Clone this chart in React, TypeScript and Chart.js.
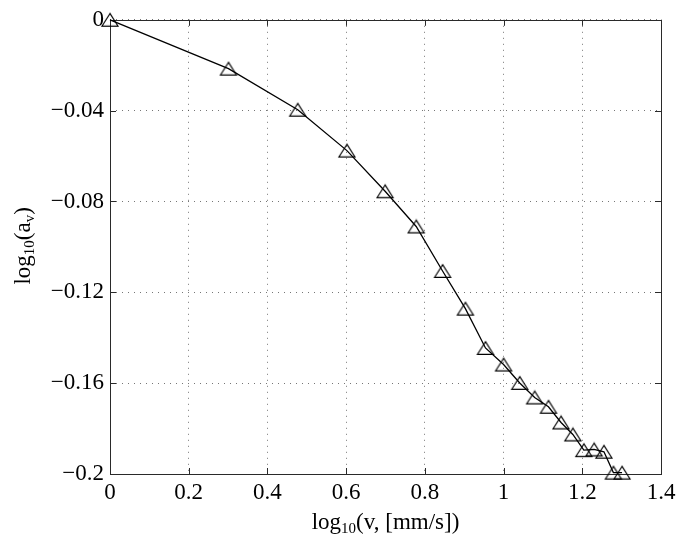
import React, { useEffect, useRef } from "react";
import { Chart, registerables } from "chart.js";

Chart.register(...registerables);

// log10(v) values
const xValues = [0, 0.301, 0.477, 0.602, 0.699, 0.778, 0.845, 0.903, 0.954, 1.0, 1.041, 1.079, 1.114, 1.146, 1.176, 1.204, 1.23, 1.255, 1.279, 1.301];
// log10(a_v) values
const yValues = [0, -0.0215, -0.0396, -0.0576, -0.0755, -0.091, -0.1106, -0.1272, -0.1445, -0.1518, -0.1599, -0.1663, -0.1704, -0.1773, -0.1826, -0.1895, -0.1892, -0.1902, -0.1994, -0.1994];

const xTicks = [0, 0.2, 0.4, 0.6, 0.8, 1, 1.2, 1.4];
const yTicks = [0, -0.04, -0.08, -0.12, -0.16, -0.2];

const xTitleParts = ["log", "10", "(v, [mm/s])"];
const yTitleParts = ["log", "10", "(a", "v", ")"];

const FONT = "'Liberation Serif', 'Times New Roman', serif";

function fmt(v: number): string {
  const s = String(Number(v.toFixed(3)));
  return s.replace("-", "\u2212");
}

function makeTriangle(): HTMLCanvasElement {
  const c = document.createElement("canvas");
  c.width = 20;
  c.height = 16;
  const g = c.getContext("2d")!;
  g.strokeStyle = "#000";
  g.lineWidth = 1.2;
  g.beginPath();
  g.moveTo(10, 1.7);
  g.lineTo(2, 14.3);
  g.lineTo(18, 14.3);
  g.closePath();
  g.stroke();
  return c;
}

// draws text parts alternating normal / subscript
function drawParts(ctx: CanvasRenderingContext2D, parts: string[], mainFont: string, subFont: string, subShift: number) {
  let total = 0;
  const widths: number[] = [];
  parts.forEach((p, i) => {
    ctx.font = i % 2 === 1 ? subFont : mainFont;
    const w = ctx.measureText(p).width;
    widths.push(w);
    total += w;
  });
  let x = -total / 2;
  parts.forEach((p, i) => {
    ctx.font = i % 2 === 1 ? subFont : mainFont;
    ctx.fillText(p, x, i % 2 === 1 ? subShift : 0);
    x += widths[i];
  });
}

const framePlugin = {
  id: "matlabFrame",
  beforeDatasetsDraw(chart: any) {
    const { ctx, chartArea } = chart;
    const { left, right, top, bottom } = chartArea;
    const xs = chart.scales.x;
    const ys = chart.scales.y;
    ctx.save();
    ctx.setLineDash([]);
    ctx.strokeStyle = "#2a2a2a";
    ctx.lineWidth = 1;
    ctx.strokeRect(Math.round(left) + 0.5, Math.round(top) + 0.5, Math.round(right - left), Math.round(bottom - top));
    const tl = 6;
    ctx.beginPath();
    xTicks.forEach((v) => {
      const px = Math.round(xs.getPixelForValue(v)) + 0.5;
      ctx.moveTo(px, bottom);
      ctx.lineTo(px, bottom - tl);
      ctx.moveTo(px, top);
      ctx.lineTo(px, top + tl);
    });
    yTicks.forEach((v) => {
      const py = Math.round(ys.getPixelForValue(v)) + 0.5;
      ctx.moveTo(left, py);
      ctx.lineTo(left + tl, py);
      ctx.moveTo(right, py);
      ctx.lineTo(right - tl, py);
    });
    ctx.stroke();
    ctx.restore();
  },
  afterDraw(chart: any) {
    const { ctx, chartArea } = chart;
    const { left, right, top, bottom } = chartArea;
    ctx.save();
    ctx.fillStyle = "#000";
    ctx.textBaseline = "alphabetic";
    ctx.textAlign = "left";
    const mainFont = `23px ${FONT}`;
    const subFont = `15px ${FONT}`;
    // x title
    ctx.save();
    ctx.translate((left + right) / 2, 529);
    drawParts(ctx, xTitleParts, mainFont, subFont, 4);
    ctx.restore();
    // y title
    ctx.save();
    ctx.translate(30, (top + bottom) / 2 - 1);
    ctx.rotate(-Math.PI / 2);
    drawParts(ctx, yTitleParts, mainFont, subFont, 4);
    ctx.restore();
    ctx.restore();
  },
};

export default function App() {
  const ref = useRef<HTMLCanvasElement | null>(null);

  useEffect(() => {
    if (!ref.current) return;
    const tri = makeTriangle();
    const data = xValues.map((x, i) => ({ x, y: yValues[i] }));
    const gridOpts = {
      color: "rgba(60,60,60,0.7)",
      lineWidth: 1,
      drawTicks: false,
    };
    const chart = new Chart(ref.current, {
      type: "scatter",
      data: {
        datasets: [
          {
            data,
            showLine: true,
            clip: false,
            borderColor: "#000",
            borderWidth: 1.3,
            pointStyle: tri as any,
            pointRadius: 8,
            pointHoverRadius: 8,
            backgroundColor: "rgba(0,0,0,0)",
            tension: 0,
          } as any,
        ],
      },
      options: {
        responsive: false,
        animation: false,
        events: [],
        layout: { padding: { top: 19, right: 24, left: 0, bottom: 0 } },
        plugins: {
          legend: { display: false },
          tooltip: { enabled: false },
        },
        scales: {
          x: {
            type: "linear",
            min: 0,
            max: 1.4,
            afterBuildTicks: (s: any) => {
              s.ticks = xTicks.map((v) => ({ value: v }));
            },
            afterFit: (s: any) => {
              s.height = 72;
            },
            grid: gridOpts,
            border: { display: false, dash: [1, 5] },
            ticks: {
              color: "#000",
              font: { family: FONT, size: 23 },
              padding: 5,
              maxRotation: 0,
              autoSkip: false,
              callback: (v: any) => fmt(Number(v)),
            },
          },
          y: {
            type: "linear",
            min: -0.2,
            max: 0,
            afterBuildTicks: (s: any) => {
              s.ticks = yTicks.map((v) => ({ value: v }));
            },
            afterFit: (s: any) => {
              s.width = 110;
            },
            grid: gridOpts,
            border: { display: false, dash: [1, 5] },
            ticks: {
              color: "#000",
              font: { family: FONT, size: 23 },
              padding: 6,
              autoSkip: false,
              callback: (v: any) => fmt(Number(v)),
            },
          },
        },
      },
      plugins: [framePlugin],
    });
    return () => chart.destroy();
  }, []);

  return (
    <div style={{ position: "fixed", left: 0, top: 0, width: 685, height: 546, background: "#fff" }}>
      <canvas ref={ref} width={685} height={546} />
    </div>
  );
}
